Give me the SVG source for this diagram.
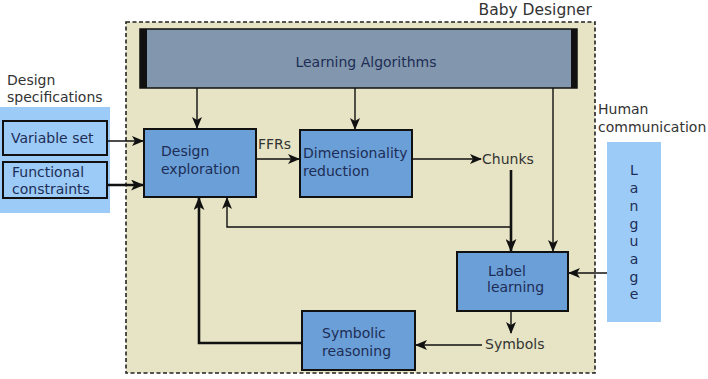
<svg xmlns="http://www.w3.org/2000/svg" width="708" height="379" viewBox="0 0 708 379">
<defs>
<style>
text{font-family:"DejaVu Sans","Liberation Sans",sans-serif;font-size:14px}
.lbl{fill:#1d2d55}
.out{fill:#333}
.box{fill:#6b9fd8;stroke:#111;stroke-width:2}
.c{fill:none;stroke:#111;stroke-width:1.4;marker-end:url(#ah)}
.ct{fill:none;stroke:#111;stroke-width:2.6;marker-end:url(#ah2)}
</style>
<marker id="ah" viewBox="0 0 12 10" refX="11" refY="5" markerWidth="12" markerHeight="10" markerUnits="userSpaceOnUse" orient="auto">
<path d="M0,0 L12,5 L0,10 L3,5 Z" fill="#111"/>
</marker>
<marker id="ah2" viewBox="0 0 12 10" refX="11" refY="5" markerWidth="13" markerHeight="11" markerUnits="userSpaceOnUse" orient="auto">
<path d="M0,0 L12,5 L0,10 L3,5 Z" fill="#111"/>
</marker>
</defs>
<rect width="708" height="379" fill="#fff"/>

<g id="baby-designer">
<rect x="126" y="22" width="469" height="351" fill="#e6e4c4" stroke="#222" stroke-width="1.6" stroke-dasharray="4,2.5"/>
<text x="592" y="15" text-anchor="end" class="out" style="font-size:15.5px">Baby Designer</text>
</g>

<g id="design-specifications">
<rect x="0" y="107" width="110" height="106" fill="#9ccbf7"/>
<text x="7" y="85" class="out">Design</text>
<text x="7" y="102" class="out">specifications</text>
</g>
<g id="variable-set">
<rect x="3" y="121" width="104" height="34" fill="#9ccbf7" stroke="#111" stroke-width="2"/>
<text x="11" y="143" class="lbl">Variable set</text>
</g>
<g id="functional-constraints">
<rect x="3" y="162" width="104" height="36" fill="#9ccbf7" stroke="#111" stroke-width="2"/>
<text x="12" y="177" class="lbl">Functional</text>
<text x="12" y="194" class="lbl">constraints</text>
</g>

<g id="learning-algorithms">
<rect x="140" y="29" width="437" height="59" fill="#8297ad" stroke="#111" stroke-width="1.5"/>
<rect x="140" y="29" width="7" height="59" fill="#111"/>
<rect x="571" y="29" width="6" height="59" fill="#111"/>
<text x="366" y="67" text-anchor="middle" class="lbl">Learning Algorithms</text>
</g>

<g id="design-exploration">
<rect x="144" y="129" width="112" height="68" class="box"/>
<text x="161" y="156" class="lbl">Design</text>
<text x="161" y="174" class="lbl">exploration</text>
</g>

<g id="dimensionality-reduction">
<rect x="300" y="130" width="112" height="67" class="box"/>
<text x="303" y="158" class="lbl">Dimensionality</text>
<text x="303" y="176" class="lbl">reduction</text>
</g>

<g id="chunks"><text x="482" y="164" class="out">Chunks</text></g>

<g id="label-learning">
<rect x="457" y="252" width="111" height="59" class="box"/>
<text x="488" y="276" class="lbl">Label</text>
<text x="487" y="292" class="lbl">learning</text>
</g>

<g id="symbols"><text x="485" y="349" class="out">Symbols</text></g>

<g id="symbolic-reasoning">
<rect x="302" y="311" width="113" height="59" class="box"/>
<text x="322" y="338" class="lbl">Symbolic</text>
<text x="322" y="356" class="lbl">reasoning</text>
</g>

<g id="human-communication">
<text x="598" y="114" class="out">Human</text>
<text x="598" y="132" class="out">communication</text>
<rect x="607" y="142" width="54" height="180" fill="#9ccbf7"/>
<g class="lbl" text-anchor="middle">
<text x="634" y="175">L</text>
<text x="634" y="193">a</text>
<text x="634" y="211">n</text>
<text x="634" y="229">g</text>
<text x="634" y="246">u</text>
<text x="634" y="264">a</text>
<text x="634" y="282">g</text>
<text x="634" y="299">e</text>
</g>
</g>

<g id="connectors">
<path class="c" d="M197,88 V128"/>
<path class="c" d="M355,88 V129"/>
<path class="c" d="M553,88 V251"/>
<path class="c" d="M107,141 H143"/>
<path class="ct" d="M107,185 H143"/>
<path class="c" d="M256,159 H299"/>
<path class="c" d="M412,159 H481"/>
<path class="ct" d="M511,170 V251"/>
<path class="c" d="M511,227 H227 V198"/>
<path class="c" d="M511,311 V333"/>
<path class="c" d="M482,345 H416"/>
<path class="ct" d="M302,343 H199 V198"/>
<path class="c" d="M607,273 H569"/>
<text x="258" y="149" class="out">FFRs</text>
</g>
</svg>
